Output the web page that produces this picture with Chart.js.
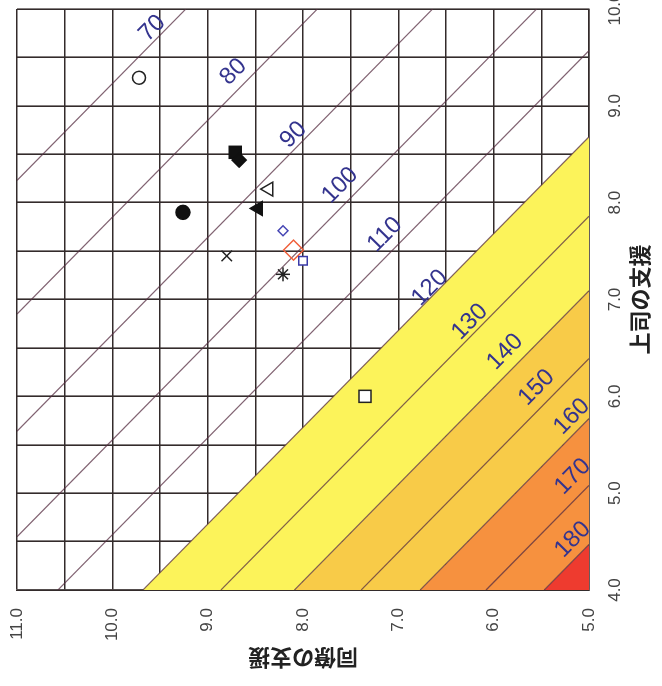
<!DOCTYPE html>
<html>
<head>
<meta charset="utf-8">
<script src="https://cdn.jsdelivr.net/npm/chart.js@4.4.1/dist/chart.umd.min.js"></script>
<style>
  html, body { margin: 0; padding: 0; background: #fff; overflow: hidden; width: 662px; height: 686px; }
  /* chart is laid out upright, then turned a quarter turn to the left like the scan */
  #wrap { position: absolute; left: 0; top: 0; width: 700px; height: 662px;
          transform-origin: 0 0; transform: translate(0, 686px) rotate(-90deg); }
</style>
</head>
<body>
<div id="wrap"><canvas id="stressChart"></canvas></div>
<script>
/* ---------- data ---------- */
// risk contour levels and the value of (上司 + 同僚) along each line
const levels    = [70, 80, 90, 100, 110, 120, 130, 140, 150, 160, 170, 180];
const levelSums = [19.23, 17.85, 16.64, 15.55, 14.57, 13.68, 12.86, 12.09, 11.39, 10.77, 10.08, 9.47];
// where each level number is written (上司, 同僚)
const labelSup = [9.80, 9.35, 8.70, 8.18, 7.67, 7.12, 6.77, 6.46, 6.09, 5.79, 5.17, 4.52];
const labelCo  = [9.58, 8.73, 8.10, 7.61, 7.14, 6.67, 6.25, 5.88, 5.55, 5.18, 5.17, 5.17];
// shaded bands start at these levels
const bandLevels = [120, 140, 160, 180];

// plotted groups
const supervisor = [9.29, 8.52, 8.44, 8.14, 7.94, 7.90, 7.71, 7.51, 7.45, 7.40, 7.26, 6.00];
const coworker   = [9.72, 8.71, 8.67, 8.36, 8.47, 9.26, 8.21, 8.10, 8.80, 8.00, 8.21, 7.35];

const supRange = [4, 10];
const coRange  = [5, 11];

/* ---------- styles ---------- */
const bandColors = ['#fcf35a', '#f8cb48', '#f6913f', '#ee3b2f'];
const markStyle  = ['circle', 'rect', 'rectRot', 'triangle', 'triangle', 'circle', 'rectRot', 'rectRot', 'crossRot', 'rect', 'star', 'rect'];
const markRadius = [6.5, 8.5, 7, 8, 8, 7, 5, 10, 7.5, 6, 7, 8.5];
const markFill   = ['#fff', '#111', '#111', '#fff', '#111', '#111', '#fff', 'rgba(0,0,0,0)', '#111', '#fff', '#111', '#fff'];
const markLine   = ['#222', '#111', '#111', '#222', '#111', '#111', '#4646b4', '#f0603c', '#222', '#3a3aa8', '#222', '#222'];
const gridColor  = '#332b2b';
const tickFont   = { family: "'Liberation Sans Narrow', 'Arial Narrow', 'Liberation Sans', Arial, sans-serif", size: 17 };
const titleFont  = { family: "'Noto Sans CJK JP', 'Noto Sans', sans-serif", size: 22, weight: 'bold' };

/* ---------- datasets ---------- */
const sumAt = lv => levelSums[levels.indexOf(lv)];

const bandSets = bandLevels.map((lv, i) => {
  const a = sumAt(lv);
  const pts = [{ x: supRange[0], y: a - supRange[0] }, { x: a - coRange[0], y: coRange[0] }];
  if (i < bandLevels.length - 1) {
    const b = sumAt(bandLevels[i + 1]);
    pts.push({ x: b - coRange[0], y: coRange[0] }, { x: supRange[0], y: b - supRange[0] });
  } else {
    pts.push({ x: supRange[0], y: coRange[0] });
  }
  return {
    type: 'line', data: pts, fill: 'shape', backgroundColor: bandColors[i],
    borderWidth: 0, pointRadius: 0, tension: 0, order: 10
  };
});

const lineSets = levelSums.map(s => {
  const x0 = Math.max(supRange[0], s - coRange[1]);
  const x1 = Math.min(supRange[1], s - coRange[0]);
  return {
    type: 'line', data: [{ x: x0, y: s - x0 }, { x: x1, y: s - x1 }],
    borderColor: 'rgba(85,45,65,0.75)', borderWidth: 1.2, pointRadius: 0, fill: false, order: 5
  };
});

const markSet = {
  type: 'scatter',
  data: supervisor.map((v, i) => ({ x: v, y: coworker[i] })),
  pointStyle: markStyle,
  pointRadius: markRadius,
  backgroundColor: markFill,
  borderColor: markLine,
  borderWidth: 1.5,
  order: 0
};

/* ---------- level numbers along the lines ---------- */
const levelLabels = {
  id: 'levelLabels',
  afterDatasetsDraw(chart) {
    const { ctx, scales: { x, y } } = chart;
    const ang = Math.atan2(y.getPixelForValue(4) - y.getPixelForValue(5), x.getPixelForValue(5) - x.getPixelForValue(4));
    ctx.save();
    ctx.fillStyle = '#34348e';
    ctx.font = "24px 'Liberation Sans Narrow', 'Arial Narrow', 'Liberation Sans', sans-serif";
    ctx.textAlign = 'center';
    ctx.textBaseline = 'middle';
    levels.forEach((lv, i) => {
      ctx.save();
      ctx.translate(x.getPixelForValue(labelSup[i]), y.getPixelForValue(labelCo[i]));
      ctx.rotate(ang);
      ctx.fillText(String(lv), 0, 0);
      ctx.restore();
    });
    ctx.restore();
  }
};

const oneDecimal = v => (Number.isInteger(v) ? v.toFixed(1) : '');

new Chart(document.getElementById('stressChart'), {
  type: 'scatter',
  data: { datasets: [...bandSets, ...lineSets, markSet] },
  options: {
    responsive: true,
    maintainAspectRatio: false,
    animation: false,
    events: [],
    layout: { padding: { top: 17, right: 23, bottom: 0, left: 0 } },
    plugins: { legend: { display: false }, tooltip: { enabled: false } },
    scales: {
      x: {
        type: 'linear', min: supRange[0], max: supRange[1], z: 1,
        ticks: { stepSize: 0.5, callback: oneDecimal, font: tickFont, color: '#444', padding: 16, maxRotation: 0, autoSkip: false },
        grid: { color: gridColor, lineWidth: 1.6, drawTicks: false },
        border: { color: gridColor, width: 1.6 },
        title: { display: true, text: '上司の支援', font: titleFont, color: '#222', padding: { top: 0, bottom: 9 } },
        // fixed size; the end labels may run past the edge like in the scan
        afterFit: s => { s.height = 73; s.paddingLeft = 0; s.paddingRight = 0; }
      },
      y: {
        type: 'linear', min: coRange[0], max: coRange[1], z: 1,
        ticks: { stepSize: 0.5, callback: oneDecimal, font: tickFont, color: '#444', padding: 18, autoSkip: false },
        grid: { color: gridColor, lineWidth: 1.6, drawTicks: false },
        border: { color: gridColor, width: 1.6 },
        title: { display: true, text: '同僚の支援', font: titleFont, color: '#222', padding: { top: 14, bottom: 0 } },
        afterFit: s => { s.width = 96; s.paddingTop = 0; s.paddingBottom = 0; }
      }
    }
  },
  plugins: [levelLabels]
});
</script>
</body>
</html>
